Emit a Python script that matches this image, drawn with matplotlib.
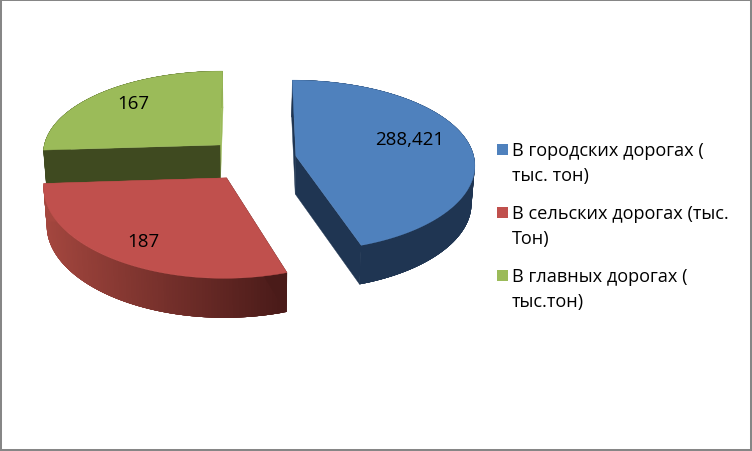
import numpy as np
import matplotlib
matplotlib.use("Agg")
import matplotlib.pyplot as plt
from matplotlib.patches import Polygon, Rectangle
from matplotlib.colors import to_rgb

plt.rcParams['font.family'] = ['Open Sans', 'DejaVu Sans']

# data
categories = ["В городских дорогах (\nтыс. тон)",
              "В сельских дорогах (тыс.\nТон)",
              "В главных дорогах (\nтыс.тон)"]
values = [288.421, 187, 167]
value_labels = ["288,421", "187", "167"]
top_colors = ["#4f81bd", "#c0504d", "#9bbb59"]
side_left = ["#1f3552", "#a5473f", "#3f4a20"]
side_right = ["#1f3552", "#4a1b19", "#3f4a20"]
wall_start = ["#1f3552", "#4a1b19", "#3f4a20"]
wall_end = ["#1f3552", "#a5473f", "#9bbb59"]
value_pos = [(410, 140), (143.5, 242), (133.5, 104)]

# perspective projection settings
CX, CY, RX, RY = 252, 160.5, 178.5, 85
KX, KY = 0.09, 0.11
EXPLODE_X, EXPLODE_Y, DEPTH = 0.25, 0.255, 38


def project(u, v, bottom=False):
    sx = 1 / (1 + KX * v)
    sy = 1 / (1 + KY * v)
    x = CX + RX * u * sx
    y = CY - RY * v * sy
    if bottom:
        x = CX + (x - CX) * 0.985
        y = y + DEPTH * (1 + 0.25 * (sy - 1))
    return np.array([x, y])


def rim(theta, du, dv, bottom=False):
    return project(np.sin(theta) + du, np.cos(theta) + dv, bottom)


fig = plt.figure(figsize=(7.52, 4.52), dpi=100, facecolor="white")
ax = fig.add_axes([0, 0, 1, 1])
ax.set_xlim(0, 752)
ax.set_ylim(452, 0)
ax.axis("off")

edges = np.radians(np.concatenate([[0], np.cumsum(values)]) / np.sum(values) * 360)

for i in [2, 1, 0]:
    a0, a1 = edges[i], edges[i + 1]
    mid = (a0 + a1) / 2
    du, dv = EXPLODE_X * np.sin(mid), EXPLODE_Y * np.cos(mid)
    th = np.linspace(a0, a1, 120)
    apex_t = project(du, dv)
    apex_b = project(du, dv, True)

    # outer side as shaded, overlapping strips (painted so no seams show)
    cl, cr = np.array(to_rgb(side_left[i])), np.array(to_rgb(side_right[i]))
    pts_t = np.array([rim(t, du, dv) for t in th])
    pts_b = np.array([rim(t, du, dv, True) for t in th])
    xmin, xmax = pts_t[:, 0].min(), pts_t[:, 0].max()
    order = range(len(th) - 1)
    if pts_t[0, 0] > pts_t[-1, 0]:
        order = reversed(list(order))
    ax.add_patch(Polygon(np.vstack([pts_t, pts_b[::-1]]), closed=True,
                         fc=(cl + cr) / 2, ec="none"))
    for j in order:
        lo, hi = max(j - 2, 0), min(j + 3, len(th) - 1)
        f = ((pts_t[j, 0] + pts_t[j + 1, 0]) / 2 - xmin) / (xmax - xmin)
        col = cl + (cr - cl) * f
        ax.add_patch(Polygon(np.vstack([pts_t[lo:hi + 1], pts_b[lo:hi + 1][::-1]]),
                             closed=True, fc=col, ec="none"))

    # radial walls (the far one first)
    for ang, col in ((a1, wall_end[i]), (a0, wall_start[i])):
        ax.add_patch(Polygon([apex_t, rim(ang, du, dv), rim(ang, du, dv, True), apex_b],
                             closed=True, fc=col, ec=col, lw=0.3))

    # top
    ax.add_patch(Polygon(np.vstack([apex_t, pts_t]), closed=True,
                         fc=top_colors[i], ec=top_colors[i], lw=0.3))

for lab, (x, y) in zip(value_labels, value_pos):
    ax.text(x, y, lab, ha="center", va="center", fontsize=13.5, color="black")

# legend
legend_y = [151, 214, 277]
for cat, col, y in zip(categories, top_colors, legend_y):
    ax.add_patch(Rectangle((497, y - 6), 11, 11, fc=col, ec="none"))
    ax.text(512, y - 9, cat, ha="left", va="top", fontsize=13.1, color="black",
            linespacing=1.5)

# frame
ax.add_patch(Rectangle((1, 1), 750, 450, fc="none", ec="#868686", lw=1.45))

fig.savefig("out.png", dpi=100)
